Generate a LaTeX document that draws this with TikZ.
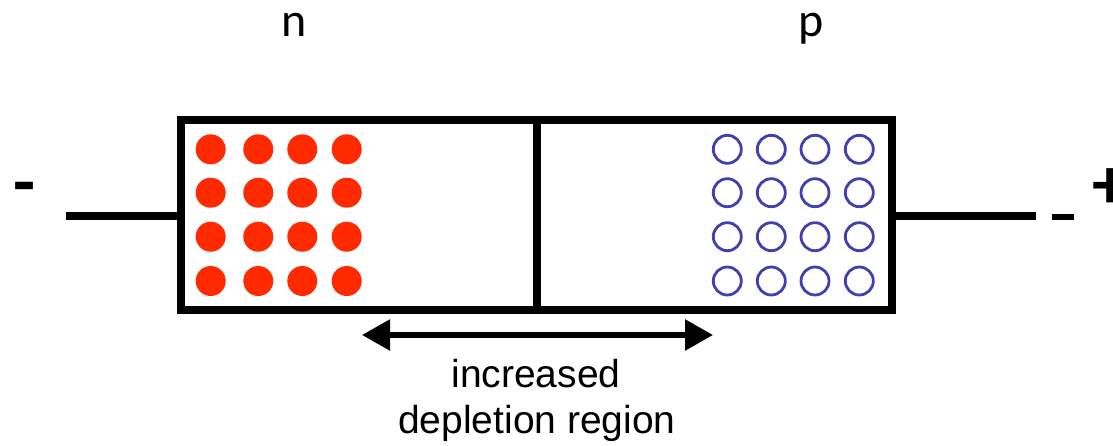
\documentclass[tikz,border=0pt]{standalone}
\usepackage{fontspec}
\setmainfont{Liberation Sans}
\newfontfamily\calfont{Carlito}
\usetikzlibrary{arrows.meta}
\definecolor{dotred}{HTML}{FF2A00}
\definecolor{holeblue}{HTML}{4040B0}
\tikzset{
  wire/.style={line width=7.5pt},
  region/.style={draw, line width=7.5pt, inner sep=0pt, outer sep=0pt, minimum height=190pt},
  electron/.style={circle, fill=dotred, inner sep=0pt, minimum size=30pt},
  hole/.style={circle, draw=holeblue, line width=2.8pt, inner sep=0pt, minimum size=28pt},
  lbl/.style={font=\calfont\fontsize{48}{50}\selectfont, inner sep=0pt, anchor=base},
  sign/.style={font=\calfont\bfseries\fontsize{72}{74}\selectfont, inner sep=0pt, anchor=base},
  captext/.style={font=\fontsize{39}{35}\selectfont, inner sep=0pt, anchor=base},
  dbl/.style={line width=5.5pt, {Triangle[length=28pt,width=30pt]}-{Triangle[length=28pt,width=30pt]}}
}
\begin{document}
\begin{tikzpicture}[x=1pt,y=-1pt]
\useasboundingbox (0,0) rectangle (1113,445);
\clip (0,0) rectangle (1113,445);
% regions
\node[region, minimum width=356pt] (nreg) at (359,215) {};
\node[region, minimum width=355pt] (preg) at (714.5,215) {};
% wires
\coordinate (lw) at (66,216);
\coordinate (rw) at (1036,216);
\draw[wire] (lw) -- (lw -| nreg.west);
\draw[wire] (rw -| preg.east) -- (rw);
\coordinate (ds) at (1052,217);
\coordinate (de) at (1074,217);
\draw[line width=6pt] (ds) -- (de);
% carriers
\foreach \i/\x in {1/210.7,2/258.3,3/302.3,4/346.7}
  \foreach \j/\y in {1/149.3,2/192.7,3/236.7,4/281}
    \node[electron] (e\i\j) at (\x,\y) {};
\foreach \i/\x in {1/727.3,2/771.3,3/815,4/859.3}
  \foreach \j/\y in {1/149.3,2/192.7,3/236.7,4/281}
    \node[hole] (h\i\j) at (\x,\y) {};
% labels
\node[lbl] (nl) at (294,36) {n};
\node[lbl] (pl) at (811,36) {p};
\node[sign] (minus) at (25,206) {-};
\node[sign] (plus) at (1110,208) {+};
% depletion arrow
\coordinate (al) at (362,335);
\coordinate (ar) at (713,335);
\draw[dbl] (al) -- (ar);
\node[captext] (c1) at (536,387) {increased};
\node[captext] (c2) at (537,433) {depletion region};
\end{tikzpicture}
\end{document}
